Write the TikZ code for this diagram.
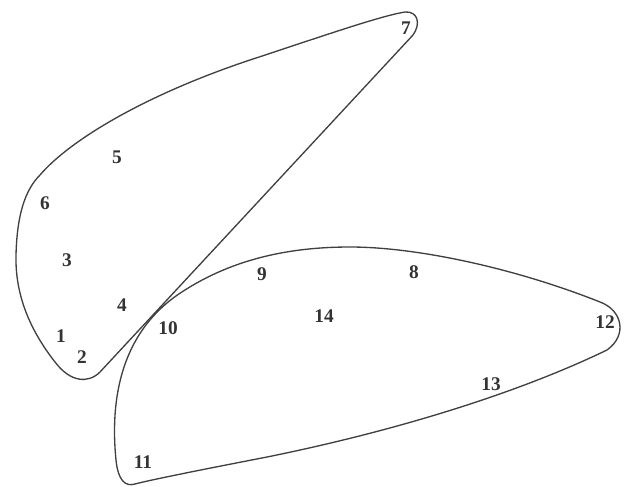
\documentclass[tikz,border=0pt]{standalone}
\usepackage{fontspec}
\setmainfont{Liberation Serif}
\begin{document}
\begin{tikzpicture}[x=0.75pt,y=-0.75pt,
  outline/.style={draw=black!75, line width=1pt},
  lab/.style={font=\fontsize{14.5}{16}\selectfont\bfseries, text=black!80, inner sep=0pt}]
\useasboundingbox (0,0) rectangle (632,486);
% upper-left region
\draw[outline] (405,12) .. controls (418,11) and (421,24) .. (413,35)
  -- (100,372)
  .. controls (88,384) and (70,382) .. (55,362)
  .. controls (30,330) and (15,295) .. (16,255)
  .. controls (17,215) and (25,190) .. (40,175)
  .. controls (70,140) and (145,95) .. (250,60)
  .. controls (320,37) and (380,16) .. (405,12) -- cycle;
% lower region
\draw[outline] (350,247) .. controls (420,247) and (520,270) .. (600,302)
  .. controls (622,310) and (628,335) .. (607,350)
  .. controls (520,392) and (400,430) .. (267,457)
  .. controls (200,470) and (150,480) .. (135,484)
  .. controls (125,487) and (118,480) .. (116,460)
  .. controls (110,400) and (120,330) .. (185,290)
  .. controls (240,255) and (300,247) .. (350,247) -- cycle;
\node[lab] (n7) at (406,28) {7};
\node[lab] (n5) at (117,157) {5};
\node[lab] (n6) at (45,203) {6};
\node[lab] (n3) at (67,260) {3};
\node[lab] (n4) at (122,305) {4};
\node[lab] (n1) at (61,336) {1};
\node[lab] (n2) at (82,357) {2};
\node[lab] (n10) at (168,328) {10};
\node[lab] (n9) at (262,274) {9};
\node[lab] (n8) at (414,272) {8};
\node[lab] (n14) at (324,316) {14};
\node[lab] (n12) at (605,322) {12};
\node[lab] (n13) at (491,384) {13};
\node[lab] (n11) at (143,462) {11};
\end{tikzpicture}
\end{document}
